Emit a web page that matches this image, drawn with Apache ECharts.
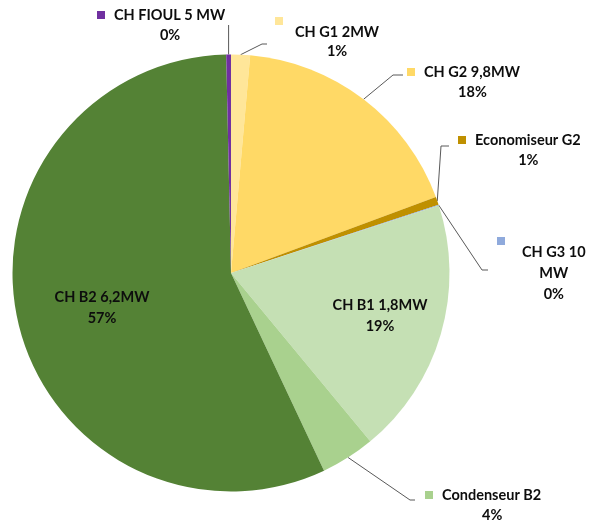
<!DOCTYPE html>
<html><head><meta charset="utf-8">
<script src="https://cdn.jsdelivr.net/npm/echarts@6/dist/echarts.min.js"></script>
<style>html,body{margin:0;padding:0;background:#fff}#c{width:590px;height:522px}</style>
</head><body><div id="c"></div>
<script>
// ---- data ----
const categories = ['CH G1 2MW', 'CH G2 9,8MW', 'Economiseur G2', 'CH G3 10 MW', 'CH B1 1,8MW', 'Condenseur B2', 'CH B2 6,2MW', 'CH FIOUL 5 MW'];
const values = [1.4, 17.95, 0.6, 0.05, 19.0, 4.0, 56.65, 0.35];
const colors = ['#FFE699', '#FFD966', '#BF9000', '#8FAADC', '#C5E0B4', '#A9D18E', '#548235', '#7030A0'];

// ---- label placement (styling only) ----
const placement = [
  { kind: 'aboveLeft', x: 275, y: 20, line: [[262, 44], [267, 44]] },
  { kind: 'inline', x: 407, y: 62, line: [[393, 75], [403, 75]] },
  { kind: 'inline', x: 458, y: 130, line: [[441, 146], [449, 146]] },
  { kind: 'above', x: 497, y: 240, wrap: 'MW', line: [[482, 270], [488, 270]] },
  { kind: 'inside', x: 380, y: 295 },
  { kind: 'inline', x: 425, y: 485, line: [[410, 500], [415, 500]] },
  { kind: 'inside', x: 102, y: 287 },
  { kind: 'inline', x: 97, y: 5, vertical: 25 }
];

const font = { fontFamily: 'Lato', fontWeight: 'bold', fontSize: 14.5, color: '#0d0d0d' };
const rich = {
  t: Object.assign({ lineHeight: 20 }, font),
  c: Object.assign({ lineHeight: 21, align: 'center' }, font),
  p: Object.assign({ lineHeight: 20, align: 'center', padding: [0, 0, 0, 18] }, font),
  p2: Object.assign({ lineHeight: 19, align: 'center', padding: [0, 0, 0, 20] }, font),
  q: Object.assign({ lineHeight: 21, align: 'center', padding: [0, 0, 0, 25] }, font),
  g: { width: 9, lineHeight: 20 },
  g2: { width: 20, lineHeight: 20 }
};
colors.forEach((col, i) => {
  rich['m' + i] = { width: 8, height: 8, lineHeight: 10, backgroundColor: col };
  rich['a' + i] = { width: 8, height: 8, lineHeight: 2, backgroundColor: col };
});

function fmt(params) {
  const i = params.dataIndex, pl = placement[i];
  const name = params.name, pct = Math.round(params.percent) + '%';
  if (pl.kind === 'inside') return '{c|' + name + '}\n{c|' + pct + '}';
  if (pl.kind === 'aboveLeft') return '{a' + i + '|}\n{g2|}{t|' + name + '}\n{p2|' + pct + '}';
  if (pl.kind === 'above') {
    const k = name.lastIndexOf(' ' + pl.wrap);
    const l1 = name.slice(0, k), l2 = name.slice(k + 1);
    return '{a' + i + '|}\n{q|' + l1 + '}\n{q|' + l2 + '}\n{q|' + pct + '}';
  }
  return '{m' + i + '|}{g|}{t|' + name + '}\n{p|' + pct + '}';
}

const data = categories.map((n, i) => {
  const inside = placement[i].kind === 'inside';
  return {
    name: n, value: values[i],
    itemStyle: { color: colors[i] },
    label: { position: inside ? 'inside' : 'outside' },
    labelLine: { show: !inside }
  };
});

const chart = echarts.init(document.getElementById('c'), null, { renderer: 'canvas' });
chart.setOption({
  animation: false,
  backgroundColor: '#ffffff',
  series: [{
    type: 'pie',
    center: [231, 273],
    radius: 218.5,
    startAngle: 90,
    clockwise: true,
    percentPrecision: 0,
    avoidLabelOverlap: false,
    data: data,
    itemStyle: { borderWidth: 0 },
    label: { show: true, formatter: fmt, rich: rich },
    labelLine: { show: true, length: 10, length2: 10, lineStyle: { color: '#595959', width: 1 } },
    labelLayout: function (params) {
      const pl = placement[params.dataIndex];
      if (pl.kind === 'inside') {
        return { x: pl.x, y: pl.y, align: 'center', verticalAlign: 'top' };
      }
      const res = { x: pl.x, y: pl.y, align: 'left', verticalAlign: 'top' };
      const pts = params.labelLinePoints;
      if (pts && pts.length) {
        const p0 = pts[0];
        if (pl.vertical != null) {
          res.labelLinePoints = [p0, [p0[0], pl.vertical], [p0[0], pl.vertical]];
        } else {
          res.labelLinePoints = [p0, pl.line[0], pl.line[1]];
        }
      }
      return res;
    }
  }]
});
</script>
</body></html>
